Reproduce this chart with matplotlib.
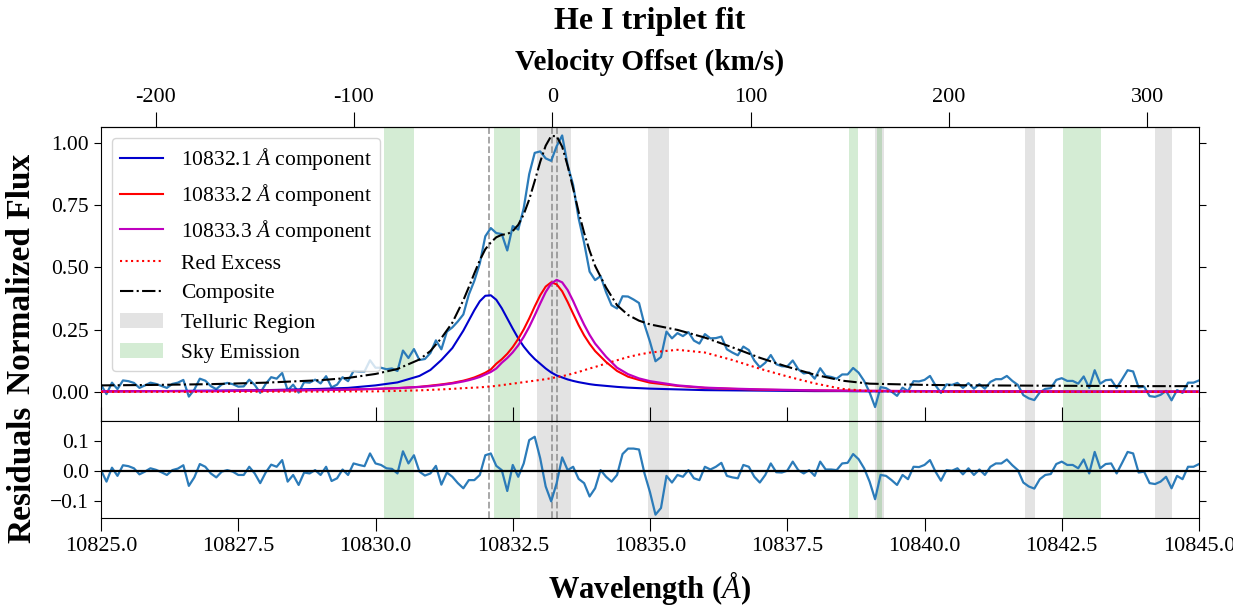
"""He I triplet fit: spectrum, line components and residuals."""

import numpy as np
import matplotlib

matplotlib.use("Agg")
import matplotlib.pyplot as plt
from matplotlib.lines import Line2D
from matplotlib.patches import Patch

plt.rcParams["font.family"] = ["Liberation Serif", "DejaVu Serif"]
plt.rcParams["mathtext.fontset"] = "custom"
plt.rcParams["mathtext.rm"] = "Liberation Serif"
plt.rcParams["mathtext.it"] = "Liberation Serif:italic"
plt.rcParams["mathtext.bf"] = "Liberation Serif:bold"

# observed spectrum, sampled every 0.1 A from 10825.0 to 10845.0
wave = np.round(np.linspace(10825.0, 10845.0, 201), 1)

flux = [
    0.029, -0.009, 0.037, 0.011, 0.046, 0.043, 0.036, 0.016, 0.026, 0.037,
    0.032, 0.024, 0.016, 0.032, 0.037, 0.048, -0.019, 0.009, 0.053, 0.045,
    0.023, 0.011, 0.030, 0.036, 0.031, 0.021, 0.022, 0.049, 0.028, -0.004,
    0.032, 0.059, 0.053, 0.076, 0.006, 0.029, -0.003, 0.039, 0.037, 0.049,
    0.034, 0.063, 0.018, 0.029, 0.059, 0.043, 0.084, 0.082, 0.082, 0.127,
    0.097, 0.097, 0.091, 0.094, 0.084, 0.166, 0.136, 0.172, 0.128, 0.132,
    0.156, 0.207, 0.171, 0.242, 0.259, 0.283, 0.311, 0.391, 0.446, 0.516,
    0.625, 0.658, 0.638, 0.634, 0.568, 0.666, 0.652, 0.738, 0.875, 0.960,
    0.966, 0.938, 0.928, 0.987, 1.030, 0.911, 0.831, 0.697, 0.599, 0.483,
    0.449, 0.465, 0.400, 0.348, 0.335, 0.384, 0.383, 0.371, 0.357, 0.270,
    0.201, 0.123, 0.140, 0.242, 0.215, 0.236, 0.224, 0.240, 0.206, 0.194,
    0.232, 0.215, 0.216, 0.222, 0.171, 0.158, 0.147, 0.182, 0.168, 0.126,
    0.099, 0.117, 0.148, 0.111, 0.103, 0.102, 0.126, 0.091, 0.074, 0.078,
    0.053, 0.095, 0.064, 0.060, 0.053, 0.070, 0.070, 0.096, 0.077, 0.044,
    -0.002, -0.061, 0.019, 0.015, 0.001, -0.016, 0.017, 0.003, 0.043, 0.042,
    0.048, 0.064, 0.026, -0.004, 0.030, 0.028, 0.036, 0.016, 0.035, 0.013,
    0.031, 0.013, 0.040, 0.051, 0.051, 0.064, 0.044, 0.028, -0.013, -0.026,
    -0.033, -0.002, 0.012, 0.015, 0.048, 0.055, 0.044, 0.044, 0.033, 0.062,
    0.016, 0.087, 0.033, 0.047, 0.049, 0.016, 0.051, 0.087, 0.082, 0.018,
    0.021, -0.017, -0.020, -0.012, 0.004, -0.034, 0.007, -0.004, 0.037, 0.037,
    0.046,
]

resid = [
    0.003, -0.035, 0.011, -0.016, 0.019, 0.016, 0.009, -0.011, -0.002, 0.009,
    0.004, -0.004, -0.013, 0.003, 0.008, 0.019, -0.049, -0.021, 0.023, 0.014,
    -0.008, -0.021, -0.002, 0.003, -0.002, -0.013, -0.013, 0.014, -0.008, -0.040,
    -0.005, 0.021, 0.014, 0.036, -0.035, -0.013, -0.046, -0.005, -0.008, 0.003,
    -0.013, 0.014, -0.033, -0.024, 0.005, -0.013, 0.025, 0.020, 0.016, 0.058,
    0.025, 0.020, 0.009, 0.007, -0.008, 0.065, 0.025, 0.052, -0.002, -0.015,
    -0.008, 0.017, -0.045, -0.005, -0.019, -0.040, -0.057, -0.030, -0.030, -0.013,
    0.052, 0.058, 0.017, 0.003, -0.066, 0.020, -0.019, 0.025, 0.102, 0.113,
    0.042, -0.051, -0.100, -0.040, 0.045, 0.003, 0.014, -0.026, -0.040, -0.084,
    -0.057, 0.003, -0.019, -0.035, -0.013, 0.056, 0.074, 0.074, 0.071, -0.008,
    -0.070, -0.144, -0.122, -0.016, -0.038, -0.013, -0.019, 0.003, -0.024, -0.030,
    0.014, 0.005, 0.014, 0.027, -0.016, -0.021, -0.024, 0.020, 0.014, -0.019,
    -0.038, -0.013, 0.025, -0.004, -0.005, 0.001, 0.031, 0.003, -0.008, 0.003,
    -0.016, 0.031, 0.005, 0.005, 0.003, 0.025, 0.027, 0.056, 0.039, 0.009,
    -0.035, -0.093, -0.013, -0.016, -0.030, -0.046, -0.013, -0.027, 0.014, 0.013,
    0.020, 0.036, -0.002, -0.032, 0.003, 0.001, 0.009, -0.011, 0.009, -0.013,
    0.005, -0.013, 0.014, 0.025, 0.025, 0.038, 0.019, 0.003, -0.038, -0.051,
    -0.058, -0.027, -0.013, -0.010, 0.023, 0.031, 0.020, 0.020, 0.009, 0.038,
    -0.008, 0.063, 0.009, 0.023, 0.025, -0.008, 0.027, 0.063, 0.058, -0.005,
    -0.002, -0.040, -0.043, -0.035, -0.019, -0.057, -0.016, -0.027, 0.014, 0.014,
    0.023,
]

# fitted model curves
model_wave = [
    10825.0, 10826.0, 10827.0, 10828.0, 10829.0, 10829.5, 10830.0, 10830.4,
    10830.8, 10831.0, 10831.2, 10831.4, 10831.6, 10831.7, 10831.8, 10831.9,
    10832.0, 10832.1, 10832.2, 10832.3, 10832.4, 10832.5, 10832.6, 10832.7,
    10832.8, 10832.9, 10833.0, 10833.1, 10833.2, 10833.3, 10833.4, 10833.5,
    10833.6, 10833.7, 10833.8, 10833.9, 10834.0, 10834.2, 10834.4, 10834.6,
    10834.8, 10835.0, 10835.5, 10836.0, 10836.5, 10837.0, 10837.5, 10838.0,
    10838.5, 10839.0, 10840.0, 10841.0, 10842.0, 10843.0, 10844.0, 10845.0,
]

comp_10832_1 = [
    0.002, 0.003, 0.005, 0.007, 0.012, 0.016, 0.026, 0.038,
    0.064, 0.088, 0.128, 0.176, 0.246, 0.287, 0.328, 0.364,
    0.386, 0.388, 0.370, 0.336, 0.295, 0.254, 0.215, 0.182,
    0.155, 0.132, 0.113, 0.094, 0.078, 0.066, 0.058, 0.050,
    0.044, 0.039, 0.035, 0.031, 0.028, 0.024, 0.020, 0.017,
    0.015, 0.013, 0.010, 0.007, 0.006, 0.005, 0.004, 0.003,
    0.003, 0.002, 0.002, 0.001, 0.001, 0.001, 0.001, 0.001,
]

comp_10833_2 = [
    0.002, 0.003, 0.003, 0.005, 0.008, 0.009, 0.012, 0.015,
    0.020, 0.025, 0.030, 0.036, 0.045, 0.051, 0.058, 0.067,
    0.077, 0.090, 0.113, 0.131, 0.153, 0.180, 0.213, 0.251,
    0.295, 0.343, 0.388, 0.423, 0.440, 0.432, 0.404, 0.361,
    0.314, 0.268, 0.227, 0.193, 0.164, 0.120, 0.084, 0.061,
    0.048, 0.037, 0.024, 0.016, 0.012, 0.009, 0.007, 0.006,
    0.005, 0.004, 0.003, 0.002, 0.002, 0.001, 0.001, 0.001,
]

comp_10833_3 = [
    0.002, 0.003, 0.003, 0.005, 0.007, 0.009, 0.012, 0.015,
    0.020, 0.023, 0.028, 0.034, 0.042, 0.047, 0.053, 0.060,
    0.070, 0.080, 0.094, 0.117, 0.136, 0.159, 0.187, 0.221,
    0.261, 0.307, 0.355, 0.401, 0.435, 0.450, 0.440, 0.409,
    0.365, 0.316, 0.270, 0.229, 0.194, 0.141, 0.097, 0.071,
    0.054, 0.043, 0.026, 0.017, 0.013, 0.010, 0.008, 0.006,
    0.005, 0.004, 0.003, 0.002, 0.002, 0.001, 0.001, 0.001,
]

red_excess = [
    0.000, 0.000, 0.000, 0.001, 0.001, 0.002, 0.002, 0.004,
    0.006, 0.008, 0.010, 0.012, 0.015, 0.016, 0.017, 0.018,
    0.020, 0.022, 0.024, 0.027, 0.030, 0.033, 0.036, 0.039,
    0.042, 0.045, 0.048, 0.051, 0.055, 0.059, 0.063, 0.068,
    0.074, 0.080, 0.087, 0.094, 0.100, 0.114, 0.127, 0.140,
    0.150, 0.158, 0.169, 0.158, 0.128, 0.093, 0.062, 0.034,
    0.012, 0.003, 0.000, 0.000, 0.000, 0.000, 0.000, 0.000,
]

composite = [
    0.026, 0.028, 0.031, 0.037, 0.047, 0.056, 0.072, 0.092,
    0.130, 0.164, 0.216, 0.278, 0.368, 0.421, 0.476, 0.529,
    0.573, 0.600, 0.621, 0.631, 0.634, 0.646, 0.671, 0.713,
    0.773, 0.847, 0.924, 0.989, 1.028, 1.027, 0.985, 0.908,
    0.817, 0.723, 0.639, 0.567, 0.506, 0.419, 0.348, 0.309,
    0.286, 0.271, 0.249, 0.218, 0.179, 0.137, 0.101, 0.069,
    0.045, 0.033, 0.028, 0.026, 0.025, 0.024, 0.023, 0.023,
]

# He I line centres (A) and velocity reference
line_centers = [10832.06, 10833.22, 10833.31]
rest_wave = 10833.22
C_KMS = 299792.458

telluric_regions = [
    (10832.94, 10833.56),
    (10834.96, 10835.34),
    (10839.10, 10839.26),
    (10841.83, 10842.01),
    (10844.20, 10844.51),
]
sky_regions = [
    (10830.15, 10830.70),
    (10832.16, 10832.64),
    (10838.63, 10838.79),
    (10839.14, 10839.22),
    (10842.52, 10843.22),
]

vel_ticks = [-200, -100, 0, 100, 200, 300]
vel_labels = ["-200", "-100", "0", "100", "200", "300"]

W, H = 1233, 608


def _to_vel(lam):
    return (np.asarray(lam) - rest_wave) / rest_wave * C_KMS


def _to_wave(v):
    return rest_wave * (1.0 + np.asarray(v) / C_KMS)


def _shade(ax):
    for lo, hi in telluric_regions:
        ax.axvspan(lo, hi, color="gray", alpha=0.22, lw=0, zorder=0)
    for lo, hi in sky_regions:
        ax.axvspan(lo, hi, color="tab:green", alpha=0.2, lw=0, zorder=0)
    for c in line_centers:
        ax.axvline(c, color="gray", ls="--", lw=1.3, alpha=0.75, zorder=1)


def main():
    fig = plt.figure(figsize=(W / 100, H / 100), dpi=100)
    ax = fig.add_axes([101 / W, 1 - 421 / H, 1098 / W, 294 / H])
    axr = fig.add_axes([101 / W, 1 - 518 / H, 1098 / W, 97 / H], sharex=ax)

    _shade(ax)
    _shade(axr)

    ax.plot(wave, flux, color="#2b7bb9", lw=1.6, zorder=2)
    ax.plot(model_wave, comp_10832_1, color="mediumblue", lw=1.5, zorder=3)
    ax.plot(model_wave, comp_10833_2, color="red", lw=1.5, zorder=3)
    ax.plot(model_wave, comp_10833_3, color="m", lw=1.6, zorder=3)
    ax.plot(model_wave, red_excess, color="red", ls=":", lw=1.5, zorder=3)
    ax.plot(model_wave, composite, color="black", ls="-.", lw=1.5, zorder=4)

    axr.plot(wave, resid, color="#2b7bb9", lw=1.6, zorder=2)
    axr.axhline(0, color="black", lw=1.6, zorder=3)

    ax.set_xlim(10825, 10845)
    ax.set_ylim(-0.117, 1.064)
    axr.set_ylim(-0.155, 0.165)
    ax.set_yticks([0.0, 0.25, 0.5, 0.75, 1.0])
    axr.set_yticks([-0.1, 0.0, 0.1])
    axr.set_xticks(np.arange(10825, 10845.1, 2.5))

    ax.tick_params(axis="x", direction="in", length=10, labelbottom=False)
    ax.tick_params(axis="y", length=5, right=True, labelsize=15.5)
    axr.tick_params(axis="x", length=9, labelsize=16, pad=5)
    axr.tick_params(axis="y", length=5, right=True, labelsize=15.5)

    ax.set_ylabel("Normalized Flux", fontsize=24, weight="bold")
    axr.set_ylabel("Residuals", fontsize=24, weight="bold")
    ax.yaxis.set_label_coords(-0.058, 0.5)
    axr.yaxis.set_label_coords(-0.058, 0.45)
    axr.set_xlabel(r"Wavelength ($\AA$)", fontsize=22, weight="bold", labelpad=9)

    top = ax.secondary_xaxis("top", functions=(_to_vel, _to_wave))
    top.set_xticks(vel_ticks, labels=vel_labels)
    top.tick_params(length=11, labelsize=16)
    top.set_xlabel("Velocity Offset (km/s)", fontsize=21, weight="bold", labelpad=13)

    fig.text(650 / W, 1 - 21 / H, "He I triplet fit", ha="center", va="center",
             fontsize=23, weight="bold")

    handles = [
        Line2D([], [], color="mediumblue", lw=1.5, label=r"10832.1 $\AA$ component"),
        Line2D([], [], color="red", lw=1.5, label=r"10833.2 $\AA$ component"),
        Line2D([], [], color="m", lw=1.5, label=r"10833.3 $\AA$ component"),
        Line2D([], [], color="red", ls=":", lw=1.5, label="Red Excess"),
        Line2D([], [], color="black", ls="-.", lw=1.5, label="Composite"),
        Patch(facecolor="gray", alpha=0.22, label="Telluric Region"),
        Patch(facecolor="tab:green", alpha=0.2, label="Sky Emission"),
    ]
    leg = ax.legend(handles=handles, loc="upper left", fontsize=15.5, framealpha=0.8,
                    labelspacing=0.45)
    leg.set_zorder(10)

    fig.savefig("out.png", dpi=100)
    plt.close(fig)


if __name__ == "__main__":
    main()
